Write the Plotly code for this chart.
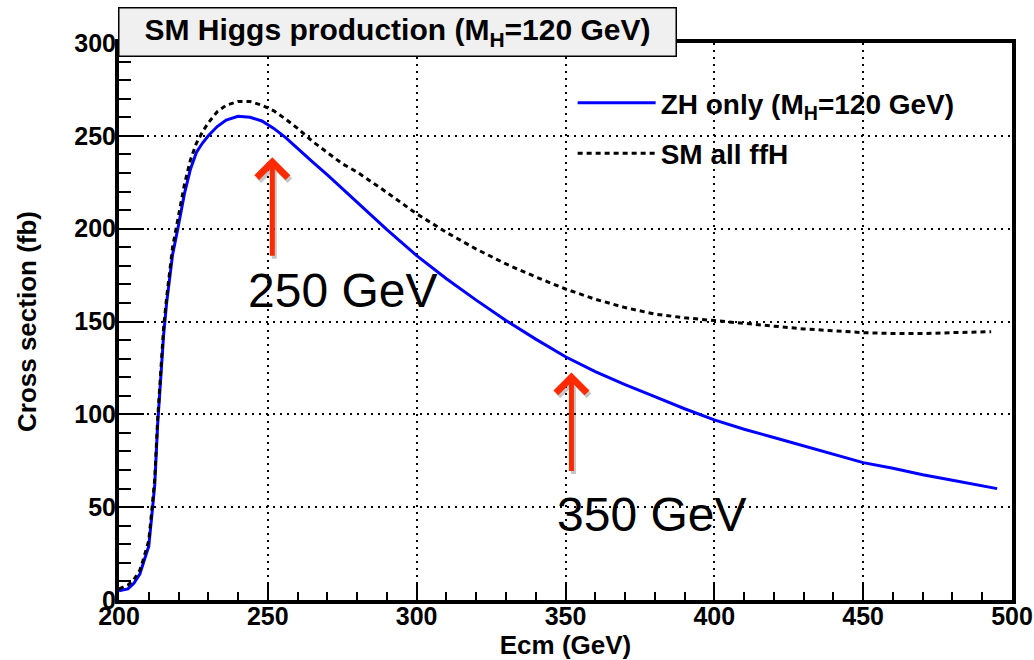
import plotly.graph_objects as go

# Centre-of-mass energy (GeV) and cross sections (fb)
ecm_zh = [200, 203, 205, 207, 208, 209, 210, 211, 212, 213, 214, 215, 216, 217, 218,
          220, 222, 224, 226, 228, 230, 233, 236, 240, 244, 248, 252, 256, 260, 265,
          270, 275, 280, 285, 290, 300, 310, 320, 330, 340, 350, 360, 370, 380, 390,
          400, 410, 420, 430, 440, 450, 460, 470, 480, 490, 495]
xs_zh = [5, 6, 9, 14, 19, 24, 29, 45, 62, 95, 122, 143, 160, 172, 186,
         202, 219, 232, 241, 246, 250, 255, 258.5, 260.5, 260, 258, 254, 249, 243, 236,
         229, 221.5, 214, 207, 199.5, 185.5, 173, 161.5, 150.5, 140.5, 131, 123, 116, 109.5, 103,
         97, 92, 87.5, 83, 78.5, 74, 71, 67.5, 64.5, 61.5, 60]

ecm_all = [200, 203, 205, 207, 208, 209, 210, 211, 212, 213, 214, 215, 216, 217, 218,
           220, 222, 224, 226, 228, 230, 233, 236, 240, 244, 248, 252, 256, 260, 265,
           270, 275, 280, 290, 300, 310, 320, 330, 340, 350, 360, 370, 380, 390, 400,
           410, 420, 430, 440, 450, 460, 470, 480, 490, 493]
xs_all = [6, 8, 11, 16, 21, 26, 32, 48, 65, 98, 125, 147, 163, 176, 190,
          207, 224, 237, 246, 252, 257, 263, 266.5, 268.5, 268.5, 266.5, 263.5, 259, 254, 247,
          241, 235, 230.5, 219.5, 208, 198, 189, 181, 174, 167.5, 162, 157.5, 154, 152, 150.5,
          149, 147.5, 146, 145, 144, 143.5, 143.5, 144, 144.5, 144.5]

# Energies marked with arrows, and their labels
marked_ecm = [251.5, 352]
marked_labels = ["250 GeV", "350 GeV"]

FONT = "Liberation Sans, Arial, Helvetica, sans-serif"
ARROW_RED = "#ff2a00"

fig = go.Figure()
fig.add_trace(go.Scatter(
    x=ecm_zh, y=xs_zh, mode="lines",
    name="ZH only (M<sub>H</sub>=120 GeV)",
    line=dict(color="#0000ff", width=3),
    legendgroup="a",
))
fig.add_trace(go.Scatter(
    x=ecm_all, y=xs_all, mode="lines",
    name="SM all ffH",
    line=dict(color="black", width=3, dash="5px,4px"),
    legendgroup="b",
))

grid_dash = "2px,5px"
fig.update_xaxes(
    range=[200, 500], tick0=200, dtick=50, automargin=False,
    ticks="inside", ticklen=17, tickwidth=2, tickcolor="black",
    minor=dict(dtick=10, ticks="inside", ticklen=8, tickwidth=2, tickcolor="black", showgrid=False),
    showgrid=True, gridcolor="black", gridwidth=1.5, griddash=grid_dash,
    showline=True, linecolor="black", linewidth=4, mirror=True, zeroline=False,
    tickfont=dict(family=FONT, size=25, color="black", weight="bold"),
    ticklabelstandoff=-9,
    title=dict(text="Ecm (GeV)", font=dict(family=FONT, size=26, color="black", weight="bold"),
               standoff=17),
)
fig.update_yaxes(
    range=[0, 300], tick0=0, dtick=50, automargin=False,
    ticks="inside", ticklen=25, tickwidth=2, tickcolor="black",
    minor=dict(dtick=10, ticks="inside", ticklen=12, tickwidth=2, tickcolor="black", showgrid=False),
    showgrid=True, gridcolor="black", gridwidth=1.5, griddash=grid_dash,
    showline=True, linecolor="black", linewidth=4, mirror=True, zeroline=False,
    tickfont=dict(family=FONT, size=25, color="black", weight="bold"),
    ticklabelstandoff=-6,
    title=dict(text="Cross section (fb)", font=dict(family=FONT, size=26, color="black", weight="bold"),
               standoff=31),
)

annotations = []
# Title box
annotations.append(dict(
    xref="paper", yref="paper", x=-0.001, y=1.0198, xanchor="left", yanchor="middle",
    text="SM Higgs production (M<sub>H</sub>=120 GeV)", showarrow=False,
    font=dict(family=FONT, size=30, color="black", weight="bold"),
    width=556, height=47, bgcolor="#f0f0f0", bordercolor="black", borderwidth=1.5, borderpad=0,
    align="center", valign="middle",
))

# Arrows (soft shadow first, then the red arrow)
arrow_tip_y = [238.5, 122.5]
for ecm, tip in zip(marked_ecm, arrow_tip_y):
    for shadow in (True, False):
        annotations.append(dict(
            x=ecm, y=tip, xref="x", yref="y", ax=0, ay=100, axref="pixel", ayref="pixel",
            text="", showarrow=True, arrowhead=4, arrowsize=1.2, arrowwidth=5,
            arrowcolor="rgba(0,0,0,0.22)" if shadow else ARROW_RED,
            xshift=2 if shadow else 0, yshift=-3 if shadow else 0,
        ))

# Energy labels below the arrows
label_pos = [(275, 166.6), (379, 46)]
for (lx, ly), txt in zip(label_pos, marked_labels):
    annotations.append(dict(
        x=lx, y=ly, xref="x", yref="y", text=txt, showarrow=False,
        xanchor="center", yanchor="middle",
        font=dict(family=FONT, size=48, color="black"),
    ))

fig.update_layout(
    width=1034, height=660,
    margin=dict(l=119, r=22, t=43, b=60),
    paper_bgcolor="white", plot_bgcolor="white",
    showlegend=True,
    legend=dict(
        x=0.508, y=0.937, xanchor="left", yanchor="top",
        bgcolor="rgba(0,0,0,0)", borderwidth=0,
        font=dict(family=FONT, size=28, color="black", weight="bold"),
        itemwidth=78, tracegroupgap=11,
    ),
    annotations=annotations,
)

fig.write_html("out.html")
